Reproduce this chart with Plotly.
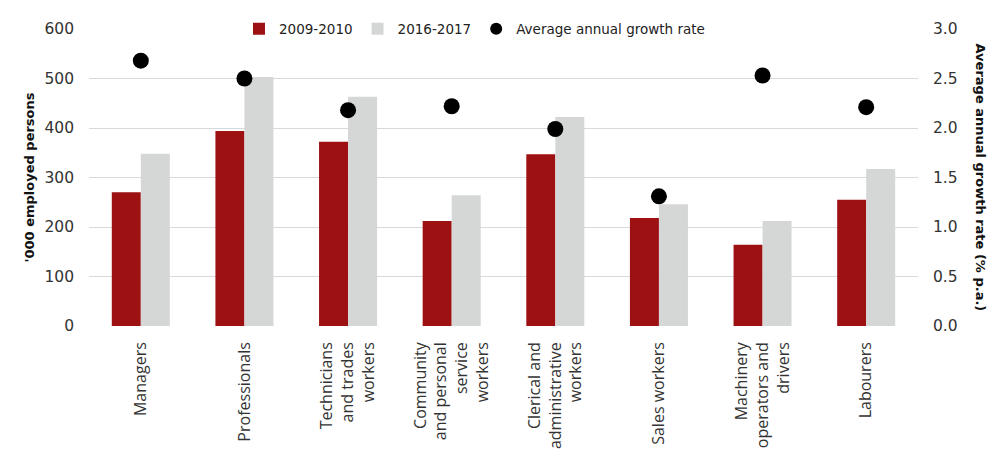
import plotly.graph_objects as go

# Occupation groups (line breaks as shown on the axis)
categories = [
    "Managers",
    "Professionals",
    "Technicians<br>and trades<br>workers",
    "Community<br>and personal<br>service<br>workers",
    "Clerical and<br>administrative<br>workers",
    "Sales workers",
    "Machinery<br>operators and<br>drivers",
    "Labourers",
]

# Employed persons ('000)
employed_2009_10 = [270, 394, 372, 212, 347, 218, 164, 255]
employed_2016_17 = [348, 503, 463, 264, 422, 246, 212, 317]

# Average annual growth rate (% p.a.)
growth_rate = [2.68, 2.50, 2.18, 2.22, 1.99, 1.31, 2.53, 2.21]

RED = "#9E1113"
GREY = "#D5D7D7"
GRID = "#D9D9D9"
NUM_FONT = "DejaVu Sans"
CAT_FONT = "Open Sans"

fig = go.Figure()

fig.add_trace(go.Bar(
    x=categories, y=employed_2009_10, name="2009-2010",
    marker=dict(color=RED, line=dict(width=0)),
    offsetgroup="a",
))
fig.add_trace(go.Bar(
    x=categories, y=employed_2016_17, name="2016-2017",
    marker=dict(color=GREY, line=dict(width=0)),
    offsetgroup="b",
))
fig.add_trace(go.Scatter(
    x=categories, y=growth_rate, name="Average annual growth rate",
    mode="markers", yaxis="y2",
    marker=dict(color="black", size=16, line=dict(width=0)),
))

fig.update_layout(
    width=991, height=450,
    margin=dict(l=89, r=73, t=29, b=124),
    paper_bgcolor="white", plot_bgcolor="white",
    barmode="group", bargap=0.44, bargroupgap=0,
    font=dict(family=NUM_FONT, size=15, color="#222222"),
    showlegend=True,
    legend=dict(
        orientation="h", x=0.465, xanchor="center", y=1.0, yanchor="middle",
        bgcolor="white", font=dict(family=NUM_FONT, size=13.5, color="#222222"),
        itemwidth=30, itemsizing="constant", tracegroupgap=0,
        traceorder="normal",
    ),
    xaxis=dict(
        type="category", tickangle=-90, automargin=False,
        tickfont=dict(family=CAT_FONT, size=16, color="#333333"),
        showgrid=False, zeroline=False, showline=False,
        ticks="", ticklabelstandoff=12,
    ),
    yaxis=dict(
        range=[0, 600], dtick=100, showgrid=True, gridcolor=GRID, gridwidth=1,
        zeroline=False, showline=False, ticks="", ticklabelstandoff=14,
        automargin=False,
        tickfont=dict(family=NUM_FONT, size=15.5, color="#333333"),
        title=dict(text="'000 employed persons",
                   font=dict(family=NUM_FONT, size=13, color="#111111",
                             weight="bold"),
                   standoff=6),
    ),
    yaxis2=dict(
        overlaying="y", side="right", range=[0, 3], dtick=0.5,
        tickformat=".1f", showgrid=False, zeroline=False, showline=False,
        ticks="", ticklabelstandoff=14, automargin=False,
        tickfont=dict(family=NUM_FONT, size=15.5, color="#333333"),
    ),
    annotations=[dict(
        text="<b>Average annual growth rate (% p.a.)</b>",
        xref="paper", yref="paper", x=1.0, y=0.5,
        xshift=62, textangle=90, showarrow=False,
        font=dict(family=NUM_FONT, size=13, color="#111111"),
        xanchor="center", yanchor="middle",
    )],
)

fig.write_html("out.html")
